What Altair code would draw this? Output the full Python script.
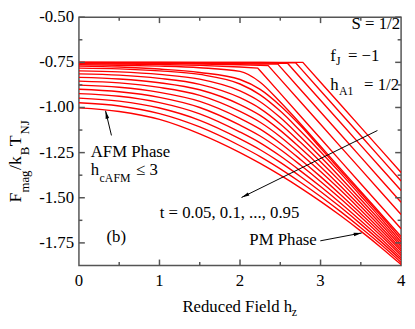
import altair as alt
import pandas as pd

# ---------------- data ----------------
T_VALUES = [0.05, 0.10, 0.15, 0.20, 0.25, 0.30, 0.35, 0.40, 0.45, 0.50,
            0.55, 0.60, 0.65, 0.70, 0.75, 0.80, 0.85, 0.90, 0.95]
H_GRID = [0.0, 0.5, 1.0, 1.5, 2.0, 2.25, 2.5, 2.75, 3.0, 3.25, 3.5, 3.75, 4.0]

F_005 = [-0.750, -0.750, -0.750, -0.750, -0.750, -0.750, -0.750, -0.750, -0.860, -0.985, -1.110, -1.235, -1.360]
F_010 = [-0.750, -0.750, -0.750, -0.750, -0.751, -0.751, -0.752, -0.782, -0.907, -1.032, -1.157, -1.282, -1.407]
F_015 = [-0.750, -0.750, -0.751, -0.752, -0.753, -0.754, -0.755, -0.835, -0.960, -1.085, -1.210, -1.335, -1.460]
F_020 = [-0.751, -0.752, -0.753, -0.755, -0.757, -0.759, -0.775, -0.900, -1.025, -1.150, -1.275, -1.400, -1.525]
F_025 = [-0.753, -0.754, -0.756, -0.759, -0.763, -0.766, -0.843, -0.968, -1.093, -1.218, -1.343, -1.468, -1.593]
F_030 = [-0.757, -0.759, -0.762, -0.767, -0.776, -0.797, -0.922, -1.047, -1.172, -1.297, -1.422, -1.547, -1.672]
F_035 = [-0.763, -0.766, -0.771, -0.780, -0.800, -0.860, -0.970, -1.090, -1.215, -1.340, -1.465, -1.590, -1.715]
F_040 = [-0.771, -0.776, -0.787, -0.806, -0.845, -0.900, -0.990, -1.100, -1.225, -1.350, -1.475, -1.600, -1.730]
F_045 = [-0.782, -0.786, -0.797, -0.817, -0.870, -0.930, -1.020, -1.130, -1.245, -1.365, -1.490, -1.615, -1.745]
F_050 = [-0.797, -0.803, -0.817, -0.843, -0.908, -0.968, -1.056, -1.162, -1.273, -1.389, -1.510, -1.631, -1.758]
F_055 = [-0.814, -0.821, -0.839, -0.872, -0.946, -1.006, -1.091, -1.193, -1.300, -1.412, -1.529, -1.647, -1.770]
F_060 = [-0.833, -0.842, -0.863, -0.902, -0.984, -1.044, -1.127, -1.225, -1.328, -1.436, -1.549, -1.663, -1.783]
F_065 = [-0.854, -0.864, -0.889, -0.933, -1.022, -1.082, -1.162, -1.256, -1.355, -1.459, -1.568, -1.679, -1.795]
F_070 = [-0.876, -0.888, -0.916, -0.966, -1.060, -1.120, -1.198, -1.288, -1.383, -1.483, -1.588, -1.695, -1.808]
F_075 = [-0.899, -0.913, -0.944, -1.000, -1.098, -1.158, -1.233, -1.319, -1.410, -1.506, -1.607, -1.711, -1.820]
F_080 = [-0.923, -0.938, -0.973, -1.035, -1.136, -1.196, -1.269, -1.351, -1.438, -1.530, -1.627, -1.727, -1.833]
F_085 = [-0.948, -0.965, -1.003, -1.071, -1.174, -1.234, -1.304, -1.382, -1.465, -1.553, -1.646, -1.743, -1.845]
F_090 = [-0.974, -0.992, -1.034, -1.108, -1.212, -1.272, -1.340, -1.414, -1.493, -1.577, -1.666, -1.759, -1.858]
F_095 = [-1.002, -1.022, -1.066, -1.146, -1.250, -1.310, -1.375, -1.445, -1.520, -1.600, -1.685, -1.775, -1.870]

# sharp first-order kinks of the low-temperature curves
KINK_T = [0.05, 0.10, 0.15, 0.20, 0.25, 0.30]
KINK_H = [2.78, 2.69, 2.59, 2.47, 2.35, 2.22]
KINK_F = [-0.750, -0.752, -0.755, -0.760, -0.768, -0.782]

X_MAJOR = [0, 1, 2, 3, 4]
X_LABELS = ["0", "1", "2", "3", "4"]
X_MINOR = [0.5, 1.5, 2.5, 3.5]
Y_MAJOR = [-1.75, -1.50, -1.25, -1.00, -0.75, -0.50]
Y_LABELS = ["-1.75", "-1.50", "-1.25", "-1.00", "-0.75", "-0.50"]
Y_MINOR = [-1.625, -1.375, -1.125, -0.875, -0.625]

CURVES = [F_005, F_010, F_015, F_020, F_025, F_030, F_035, F_040, F_045, F_050,
          F_055, F_060, F_065, F_070, F_075, F_080, F_085, F_090, F_095]

# ---------------- build tables ----------------
kinks = {round(t, 2): (h, f) for t, h, f in zip(KINK_T, KINK_H, KINK_F)}
rows_lin, rows_smooth = [], []
for t, fv in zip(T_VALUES, CURVES):
    key = round(t, 2)
    pts = list(zip(H_GRID, fv))
    if key in kinks:
        pts.append(kinks[key])
        pts.sort()
        rows_lin += [{"t": key, "h": h, "F": f} for h, f in pts]
    else:
        rows_smooth += [{"t": key, "h": h, "F": f} for h, f in pts]
df_lin = pd.DataFrame(rows_lin)
df_smooth = pd.DataFrame(rows_smooth)

W, H = 327, 252
FONT = "Liberation Serif, Times New Roman, DejaVu Serif, serif"
FRAME = "#555555"
RED = "#ff0000"

xscale = alt.Scale(domain=[0, 4], nice=False, zero=False)
yscale = alt.Scale(domain=[-1.875, -0.5], nice=False, zero=False)

lines_lin = alt.Chart(df_lin).mark_line(color=RED, strokeWidth=1.4, interpolate="linear", clip=True).encode(
    x=alt.X("h:Q", scale=xscale, axis=None),
    y=alt.Y("F:Q", scale=yscale, axis=None),
    detail="t:N",
)
lines_smooth = alt.Chart(df_smooth).mark_line(color=RED, strokeWidth=1.4, interpolate="monotone", clip=True).encode(
    x=alt.X("h:Q", scale=xscale, axis=None),
    y=alt.Y("F:Q", scale=yscale, axis=None),
    detail="t:N",
)

# ---------------- tick labels ----------------
ylab = alt.Chart(pd.DataFrame({"v": Y_MAJOR, "s": Y_LABELS})).mark_text(
    font=FONT, fontSize=17, color="black", align="right", baseline="middle").encode(
    y=alt.Y("v:Q", scale=yscale, axis=None), x=alt.value(-5), text="s:N")
xlab = alt.Chart(pd.DataFrame({"v": X_MAJOR, "s": X_LABELS})).mark_text(
    font=FONT, fontSize=17, color="black", align="center", baseline="alphabetic").encode(
    x=alt.X("v:Q", scale=xscale, axis=None), y=alt.value(H + 21), text="s:N")

# ---------------- inward ticks on all four sides ----------------
def yticks(vals, length):
    d = pd.DataFrame({"v": vals})
    left = alt.Chart(d).mark_rule(color=FRAME, strokeWidth=1.5).encode(
        y=alt.Y("v:Q", scale=yscale, axis=None), x=alt.value(0), x2=alt.value(length))
    right = alt.Chart(d).mark_rule(color=FRAME, strokeWidth=1.5).encode(
        y=alt.Y("v:Q", scale=yscale, axis=None), x=alt.value(W - length), x2=alt.value(W))
    return [left, right]

def xticks(vals, length):
    d = pd.DataFrame({"v": vals})
    bottom = alt.Chart(d).mark_rule(color=FRAME, strokeWidth=1.5).encode(
        x=alt.X("v:Q", scale=xscale, axis=None), y=alt.value(H), y2=alt.value(H - length))
    top = alt.Chart(d).mark_rule(color=FRAME, strokeWidth=1.5).encode(
        x=alt.X("v:Q", scale=xscale, axis=None), y=alt.value(0), y2=alt.value(length))
    return [bottom, top]

tick_layers = yticks(Y_MAJOR, 6) + yticks(Y_MINOR, 3.5) + xticks(X_MAJOR[1:-1], 6) + xticks(X_MINOR, 3.5)

# ---------------- text ----------------
one = pd.DataFrame({"a": [0]})

def txt(s, x, y, size=17, align="left", angle=0):
    return alt.Chart(one).mark_text(font=FONT, fontSize=size, color="black", align=align,
                                    baseline="alphabetic", angle=angle).encode(
        x=alt.value(x), y=alt.value(y), text=alt.value(s))

texts = [
    txt("S = 1/2", 326, 12, align="right"),
    txt("f", 255, 44), txt("J", 261, 49, size=12), txt("= \u22121", 305, 44, align="right"),
    txt("h", 255, 74), txt("A1", 264, 79, size=12), txt("= 1/2", 325, 74, align="right"),
    txt("AFM Phase", 12, 142),
    txt("h", 12, 160), txt("cAFM", 21, 167, size=12), txt("\u2264 3", 58, 160),
    txt("(b)", 28, 228),
    txt("t = 0.05, 0.1, ..., 0.95", 82, 204),
    txt("PM Phase", 173, 231),
    # x title
    txt("Reduced Field h", 105, 299), txt("z", 216, 303, size=12),
    # y title (rotated)
    txt("F", -59, 188, size=18, angle=270), txt("mag", -51, 178, size=13, angle=270),
    txt("/k", -59, 155, size=18, angle=270), txt("B", -51, 140, size=13, angle=270),
    txt("T", -59, 131, size=18, angle=270), txt("NJ", -51, 119, size=13, angle=270),
]

# ---------------- arrows ----------------
ARROW_PATH = "M0,0L0.38,1.7L-0.38,1.7Z"

def arrow(x1, y1, x2, y2, ang):
    shaft = alt.Chart(one).mark_rule(color="black", strokeWidth=1).encode(
        x=alt.value(x1), y=alt.value(y1), x2=alt.value(x2), y2=alt.value(y2))
    head = alt.Chart(one).mark_point(shape=ARROW_PATH, filled=True, color="black", size=90,
                                     angle=ang, opacity=1).encode(
        x=alt.value(x2), y=alt.value(y2))
    return [shaft, head]

arrows = arrow(33, 120, 27, 95, 346.5) + arrow(303, 115, 165, 183, 243.8) + arrow(245, 227, 287, 219, 79.2)

chart = alt.layer(lines_lin, lines_smooth, *tick_layers, ylab, xlab, *arrows, *texts).properties(
    width=W, height=H,
    autosize=alt.AutoSizeParams(type="none"),
    padding={"left": 72, "top": 7, "right": 6, "bottom": 52},
).configure_view(stroke=FRAME, strokeWidth=1.5)

chart.save("out.html", embed_options={"renderer": "svg", "actions": False})
